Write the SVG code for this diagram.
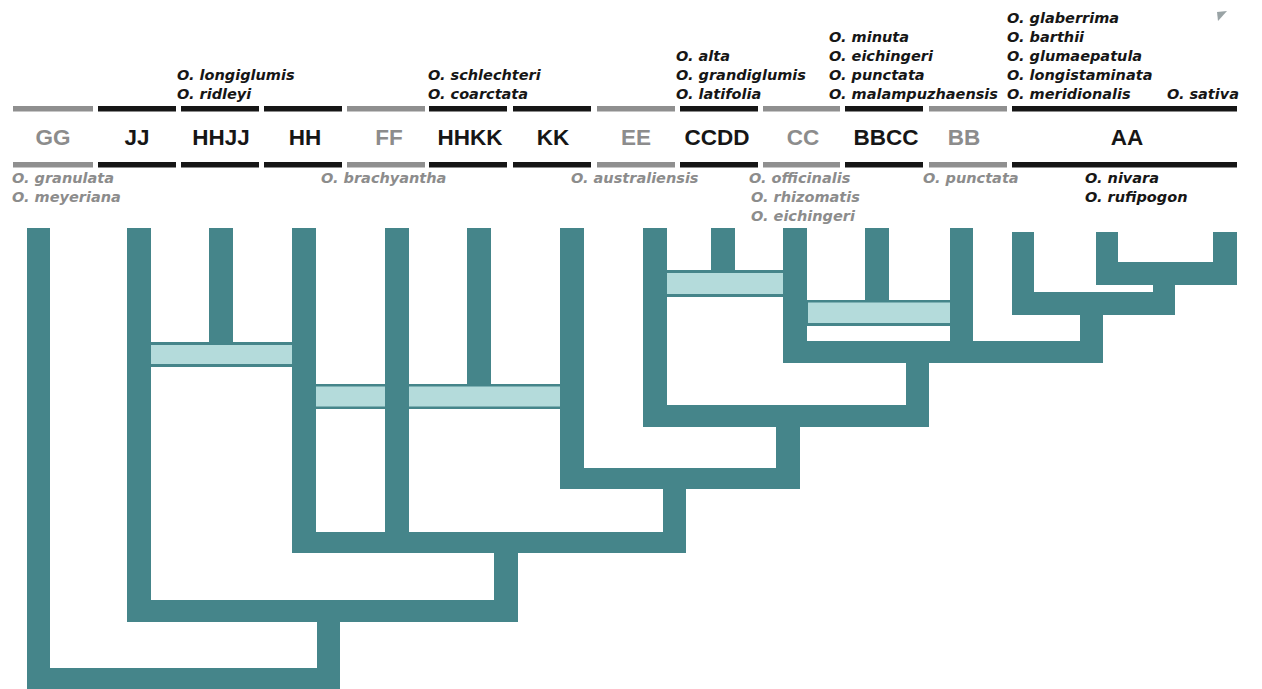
<svg xmlns="http://www.w3.org/2000/svg" width="1262" height="689" viewBox="0 0 1262 689">
<style>
.b{fill:#45858a}
.lt{fill:#b4dbdb}
.gl{font-family:"Liberation Sans",Arial,sans-serif;font-weight:bold;font-size:22.5px;text-anchor:middle}
.sp{font-family:"DejaVu Sans","Verdana",sans-serif;font-weight:bold;font-style:italic;font-size:14.5px}
.k{fill:#161616}
.g{fill:#8c8c8c}
.lk{fill:#161616}
.lg{fill:#8f8f8f}
</style>
<rect width="1262" height="689" fill="#ffffff"/>
<polygon points="1217,12 1227,11 1218,21" fill="#7f8c8e" opacity="0.8"/>

<g id="connectors">
  <!-- GG / root -->
  <rect class="b" x="27" y="228" width="23" height="461"/>
  <rect class="b" x="27" y="668" width="313" height="21"/>
  <rect class="b" x="317" y="610" width="23" height="60"/>
  <!-- JJ -->
  <rect class="b" x="127" y="228" width="24" height="394"/>
  <rect class="b" x="127" y="600" width="391" height="22"/>
  <rect class="b" x="494" y="540" width="24" height="70"/>
  <!-- HHJJ -->
  <rect class="b" x="209" y="228" width="24" height="116"/>
  <rect class="b" x="150" y="342" width="143" height="25"/>
  <rect class="lt" x="151" y="345" width="141" height="19"/>
  <!-- HH / HHKK -->
  <rect class="b" x="292" y="228" width="24" height="325"/>
  <rect class="b" x="292" y="532" width="394" height="21"/>
  <rect class="b" x="467" y="228" width="24" height="158"/>
  <rect class="b" x="316" y="384" width="245" height="25"/>
  <rect class="lt" x="316" y="386.5" width="245" height="20"/>
  <rect class="b" x="385" y="228" width="24" height="315"/>
  <!-- KK -->
  <rect class="b" x="560" y="228" width="24" height="261"/>
  <rect class="b" x="560" y="468" width="240" height="21"/>
  <rect class="b" x="663" y="480" width="23" height="60"/>
  <!-- EE / CCDD -->
  <rect class="b" x="643" y="228" width="24" height="199"/>
  <rect class="b" x="643" y="405" width="286" height="22"/>
  <rect class="b" x="776" y="420" width="24" height="55"/>
  <rect class="b" x="711" y="228" width="24" height="45"/>
  <rect class="b" x="667" y="270" width="116" height="27"/>
  <rect class="lt" x="667" y="273" width="116" height="21"/>
  <!-- CC / BBCC / BB -->
  <rect class="b" x="783" y="228" width="24" height="135"/>
  <rect class="b" x="783" y="341" width="320" height="22"/>
  <rect class="b" x="906" y="355" width="23" height="55"/>
  <rect class="b" x="865" y="228" width="24" height="74"/>
  <rect class="b" x="807" y="300" width="143" height="26"/>
  <rect class="lt" x="808" y="302.5" width="142" height="20.5"/>
  <rect class="b" x="950" y="228" width="23" height="135"/>
  <!-- AA -->
  <rect class="b" x="1012" y="232" width="22" height="83"/>
  <rect class="b" x="1012" y="292" width="163" height="23"/>
  <rect class="b" x="1080" y="305" width="23" height="45"/>
  <rect class="b" x="1096" y="232" width="22" height="53"/>
  <rect class="b" x="1096" y="262" width="141" height="23"/>
  <rect class="b" x="1213" y="232" width="24" height="53"/>
  <rect class="b" x="1153" y="280" width="22" height="15"/>
</g>

<g id="node-GG">
  <rect class="lg" x="13" y="106" width="80" height="5.5"/>
  <rect class="lg" x="13" y="162" width="80" height="5.5"/>
  <text class="gl g" x="53" y="145">GG</text>
  <text class="sp g" x="12" y="183">O. granulata</text>
  <text class="sp g" x="12" y="202">O. meyeriana</text>
</g>
<g id="node-JJ">
  <rect class="lk" x="98" y="106" width="78" height="5.5"/>
  <rect class="lk" x="98" y="162" width="78" height="5.5"/>
  <text class="gl k" x="137" y="145">JJ</text>
</g>
<g id="node-HHJJ">
  <rect class="lk" x="181" y="106" width="78" height="5.5"/>
  <rect class="lk" x="181" y="162" width="78" height="5.5"/>
  <text class="gl k" x="221" y="145">HHJJ</text>
  <text class="sp k" x="177" y="80">O. longiglumis</text>
  <text class="sp k" x="177" y="99">O. ridleyi</text>
</g>
<g id="node-HH">
  <rect class="lk" x="264" y="106" width="78" height="5.5"/>
  <rect class="lk" x="264" y="162" width="78" height="5.5"/>
  <text class="gl k" x="305" y="145">HH</text>
</g>
<g id="node-FF">
  <rect class="lg" x="347" y="106" width="78" height="5.5"/>
  <rect class="lg" x="347" y="162" width="78" height="5.5"/>
  <text class="gl g" x="389" y="145">FF</text>
  <text class="sp g" x="321" y="183">O. brachyantha</text>
</g>
<g id="node-HHKK">
  <rect class="lk" x="429" y="106" width="78" height="5.5"/>
  <rect class="lk" x="429" y="162" width="78" height="5.5"/>
  <text class="gl k" x="470" y="145">HHKK</text>
  <text class="sp k" x="428" y="80">O. schlechteri</text>
  <text class="sp k" x="428" y="99">O. coarctata</text>
</g>
<g id="node-KK">
  <rect class="lk" x="513" y="106" width="78" height="5.5"/>
  <rect class="lk" x="513" y="162" width="78" height="5.5"/>
  <text class="gl k" x="553" y="145">KK</text>
</g>
<g id="node-EE">
  <rect class="lg" x="597" y="106" width="78" height="5.5"/>
  <rect class="lg" x="597" y="162" width="78" height="5.5"/>
  <text class="gl g" x="636" y="145">EE</text>
  <text class="sp g" x="571" y="183">O. australiensis</text>
</g>
<g id="node-CCDD">
  <rect class="lk" x="680" y="106" width="78" height="5.5"/>
  <rect class="lk" x="680" y="162" width="78" height="5.5"/>
  <text class="gl k" x="717" y="145">CCDD</text>
  <text class="sp k" x="676" y="61">O. alta</text>
  <text class="sp k" x="676" y="80">O. grandiglumis</text>
  <text class="sp k" x="676" y="99">O. latifolia</text>
</g>
<g id="node-CC">
  <rect class="lg" x="763" y="106" width="77" height="5.5"/>
  <rect class="lg" x="763" y="162" width="77" height="5.5"/>
  <text class="gl g" x="803" y="145">CC</text>
  <text class="sp g" x="749" y="183">O. officinalis</text>
  <text class="sp g" x="751" y="202">O. rhizomatis</text>
  <text class="sp g" x="751" y="221">O. eichingeri</text>
</g>
<g id="node-BBCC">
  <rect class="lk" x="845" y="106" width="78" height="5.5"/>
  <rect class="lk" x="845" y="162" width="78" height="5.5"/>
  <text class="gl k" x="886" y="145">BBCC</text>
  <text class="sp k" x="829" y="42">O. minuta</text>
  <text class="sp k" x="829" y="61">O. eichingeri</text>
  <text class="sp k" x="829" y="80">O. punctata</text>
  <text class="sp k" x="829" y="99">O. malampuzhaensis</text>
</g>
<g id="node-BB">
  <rect class="lg" x="929" y="106" width="78" height="5.5"/>
  <rect class="lg" x="929" y="162" width="78" height="5.5"/>
  <text class="gl g" x="964" y="145">BB</text>
  <text class="sp g" x="923" y="183">O. punctata</text>
</g>
<g id="node-AA">
  <rect class="lk" x="1012" y="106" width="225" height="5.5"/>
  <rect class="lk" x="1012" y="162" width="225" height="5.5"/>
  <text class="gl k" x="1127" y="145">AA</text>
  <text class="sp k" x="1007" y="23">O. glaberrima</text>
  <text class="sp k" x="1007" y="42">O. barthii</text>
  <text class="sp k" x="1007" y="61">O. glumaepatula</text>
  <text class="sp k" x="1007" y="80">O. longistaminata</text>
  <text class="sp k" x="1007" y="99">O. meridionalis</text>
  <text class="sp k" x="1239" y="99" text-anchor="end">O. sativa</text>
  <text class="sp k" x="1085" y="183">O. nivara</text>
  <text class="sp k" x="1085" y="202">O. rufipogon</text>
</g>
</svg>
